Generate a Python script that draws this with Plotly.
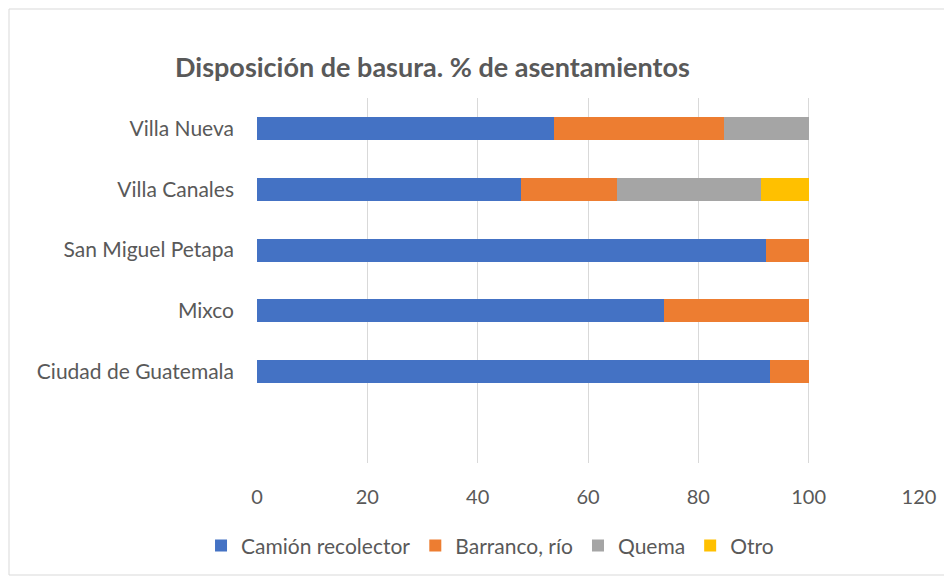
import plotly.graph_objects as go

# datos: % de asentamientos por municipio
municipios = ["Ciudad de Guatemala", "Mixco", "San Miguel Petapa",
              "Villa Canales", "Villa Nueva"]
camion = [92.9, 73.7, 92.3, 47.8, 53.8]
barranco = [7.1, 26.3, 7.7, 17.4, 30.8]
quema = [0, 0, 0, 26.1, 15.4]
otro = [0, 0, 0, 8.7, 0]
series = ["Camión recolector", "Barranco, río", "Quema", "Otro"]
colores = ["#4472C4", "#ED7D31", "#A5A5A5", "#FFC000"]
ticks_x = [0, 20, 40, 60, 80, 100, 120]

texto = "#595959"
fuente = "Lato"
# la página tiene 8px de margen en el body
W, H = 944, 570

fig = go.Figure()
for nombre, valores, color in zip(series, [camion, barranco, quema, otro], colores):
    fig.add_trace(go.Bar(y=municipios, x=valores, name=nombre, orientation="h",
                         marker_color=color, marker_line_width=0))

fig.update_layout(
    barmode="stack", bargap=0.62,
    width=W, height=H,
    margin=dict(l=249, r=33, t=90, b=115),
    paper_bgcolor="white", plot_bgcolor="white",
    font=dict(family=fuente, size=21, color=texto),
    title=dict(text="Disposición de basura. % de asentamientos",
               x=167 / W, xanchor="left", y=1 - 60 / H, yanchor="middle",
               font=dict(family=fuente, size=27, color=texto, weight="bold")),
    legend=dict(orientation="h", x=0.352, xanchor="center", y=-0.227,
                yanchor="middle", font=dict(size=21, color=texto),
                traceorder="normal", itemwidth=30),
)
fig.update_xaxes(range=[0, 120], tickvals=ticks_x, showgrid=True,
                 gridcolor="#D9D9D9", gridwidth=1, zeroline=False,
                 showline=False, ticks="", ticklabelstandoff=20,
                 tickfont=dict(size=20))
fig.update_yaxes(type="category", categoryorder="array", categoryarray=municipios,
                 range=[-1.5, 4.5], showgrid=False, zeroline=False,
                 showline=False, ticks="", ticklabelstandoff=22,
                 tickfont=dict(size=21))

# marco del gráfico
fig.add_shape(type="rect", xref="paper", yref="paper",
              x0=(9 - 257) / 662, x1=(948 - 257) / 662,
              y0=(463 - 575) / 365, y1=(463 - 9) / 365,
              line=dict(color="#D9D9D9", width=1), layer="below")

fig.write_html("out.html")
